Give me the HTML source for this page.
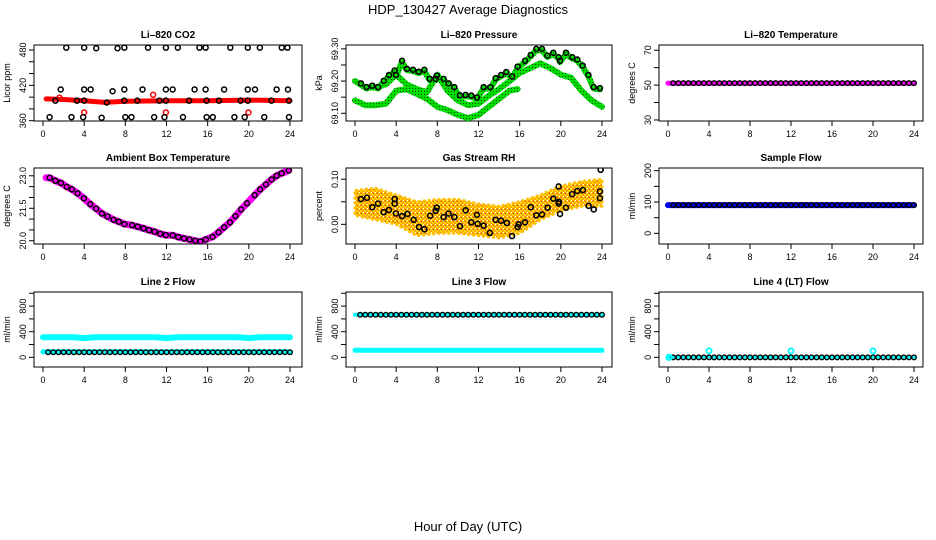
<!DOCTYPE html>
<html><head><meta charset="utf-8">
<style>
html,body{margin:0;padding:0;background:#fff;}
svg{display:block;font-family:"Liberation Sans",Arial,sans-serif;}
</style></head>
<body>
<svg id="fig" width="936" height="540" viewBox="0 0 936 540" xmlns="http://www.w3.org/2000/svg">
<defs>
<pattern id="rhpat" width="4" height="4" patternUnits="userSpaceOnUse">
<rect width="4" height="4" fill="#ffd700"/><rect width="2" height="2" fill="#ff9a00"/><rect x="2" y="2" width="2" height="2" fill="#ffa500"/><rect x="1" y="1" width="1" height="1" fill="#e04000"/><rect x="3" y="0" width="1" height="1" fill="#ffffff"/>
</pattern>
<pattern id="grpat" width="3" height="3" patternUnits="userSpaceOnUse">
<rect width="3" height="3" fill="#00dd00"/><rect x="1" y="1" width="1" height="1" fill="#114411"/>
</pattern>
</defs>
<text x="468" y="14" font-size="13" text-anchor="middle">HDP_130427  Average Diagnostics</text>
<text x="468" y="531" font-size="13" text-anchor="middle">Hour of Day (UTC)</text>
</svg>
<script>
// ---- data ----
const hourTicks = [0,4,8,12,16,20,24];
// CO2
const co2Hours = [2.26,4.0,5.17,7.24,7.9,10.2,11.94,13.1,15.2,15.8,18.2,19.9,21.07,23.2,23.75,
 1.72,4.0,4.63,6.76,7.9,9.67,11.94,12.6,14.73,15.8,17.6,19.9,20.6,22.7,23.8,
 1.2,3.3,4.0,6.2,7.9,9.16,11.3,11.94,14.2,15.9,17.1,19.2,19.9,22.2,23.9,
 0.64,2.77,3.9,5.7,8.0,8.6,10.8,11.8,13.6,15.9,16.5,18.6,19.6,21.5,23.9];
const co2Vals = [484,484,483,483,484,484,484,484,484,484,484,484,484,484,484,
 413,413,413,410,413,413,413,413,413,413,413,413,413,413,413,
 394,394,394,391,394,394,394,394,394,394,394,394,394,394,394,
 366,366,366,365,366,366,366,366,366,366,366,366,366,366,366];
const co2BandHours = [0.3,2,4,6,8,12,16,20,24];
const co2BandVals = [397,396,394,391,393,394,394,395,394];
const co2RedHours = [1.6,4.0,10.7,11.94,19.96];
const co2RedVals = [399,374,404,374,374];
// Pressure
const presHours = [0.58,1.13,1.68,2.24,2.79,3.30,3.85,3.98,4.57,5.05,5.64,6.19,6.74,7.26,7.84,7.94,8.61,9.10,9.65,10.2,10.75,11.3,11.85,12.5,13.15,13.67,14.2,14.7,15.26,15.8,16.52,17.07,17.62,18.17,18.69,19.27,19.79,19.92,20.5,21.12,21.6,22.12,22.68,23.19,23.8];
const presVals = [69.193,69.181,69.186,69.181,69.201,69.219,69.233,69.219,69.263,69.238,69.235,69.229,69.235,69.207,69.207,69.217,69.207,69.193,69.181,69.156,69.157,69.155,69.149,69.181,69.181,69.209,69.219,69.228,69.214,69.245,69.263,69.281,69.300,69.300,69.279,69.288,69.274,69.263,69.288,69.274,69.267,69.248,69.219,69.181,69.178];
const presBHours = [0,1,2,3,4,5,6,7,8,9,10,11,12,13,14,15,16,17,18,19,20,21,22,23,24];
const presBVals = [69.20,69.18,69.18,69.19,69.22,69.19,69.175,69.165,69.22,69.17,69.14,69.125,69.13,69.155,69.175,69.20,69.225,69.24,69.255,69.24,69.22,69.21,69.17,69.14,69.12];
const presCHours = [0,1,2,3,4,5,6,7,8,9,10,11,12,13,14,15,15.8];
const presCVals = [69.14,69.125,69.125,69.13,69.17,69.175,69.16,69.145,69.12,69.11,69.095,69.085,69.095,69.12,69.145,69.17,69.175];
// Ambient temperature
const ambHours = [0.65,1.2,1.74,2.3,2.81,3.36,3.97,4.6,5.17,5.72,6.27,6.85,7.37,7.92,8.66,9.2,9.77,10.3,10.84,11.4,11.94,12.6,13.14,13.7,14.24,14.8,15.3,15.82,16.47,17.06,17.6,18.17,18.7,19.25,19.82,20.57,21.1,21.66,22.2,22.7,23.2,23.88];
const ambVals = [22.91,22.77,22.67,22.49,22.37,22.19,21.96,21.69,21.48,21.26,21.12,20.97,20.88,20.77,20.72,20.65,20.57,20.49,20.42,20.32,20.26,20.25,20.17,20.11,20.06,20.00,19.96,20.06,20.18,20.39,20.62,20.85,21.14,21.45,21.73,22.11,22.37,22.60,22.83,23.00,23.12,23.25];
// RH
const rhHours = [0.58,1.16,1.68,2.24,2.79,3.3,3.85,3.85,3.98,4.57,5.1,5.7,6.22,6.74,7.3,7.84,7.94,8.61,9.1,9.65,10.2,10.75,11.3,11.85,11.92,12.5,13.1,13.67,14.2,14.75,15.26,15.8,15.9,16.52,17.07,17.62,18.17,18.72,19.27,19.79,19.82,19.79,19.92,20.5,21.1,21.6,22.15,22.7,23.2,23.8,23.8,23.87];
const rhVals = [0.056,0.059,0.038,0.046,0.027,0.032,0.056,0.046,0.024,0.018,0.023,0.010,-0.006,-0.011,0.019,0.030,0.037,0.016,0.024,0.016,-0.004,0.031,0.0045,0.021,0.001,-0.003,-0.019,0.010,0.008,0.003,-0.026,-0.006,0.000,0.0045,0.038,0.020,0.022,0.037,0.057,0.046,0.050,0.084,0.023,0.037,0.067,0.074,0.076,0.041,0.033,0.058,0.073,0.121];
const rhBandHours = [0,2,4,6,8,10,12,14,16,18,20,22,24];
const rhUpper = [0.075,0.08,0.065,0.05,0.055,0.055,0.045,0.04,0.05,0.065,0.085,0.095,0.10];
const rhLower = [0.02,0.01,0.0,-0.025,-0.02,-0.02,-0.025,-0.03,-0.02,0.01,0.03,0.04,0.04];
// Flat series (hourly, 0..24)
const flatHours = [0,1,2,3,4,5,6,7,8,9,10,11,12,13,14,15,16,17,18,19,20,21,22,23,24];
const licorTemp = [51.1,51.1,51.1,51.1,51.1,51.1,51.1,51.1,51.1,51.1,51.1,51.1,51.1,51.1,51.1,51.1,51.1,51.1,51.1,51.1,51.1,51.1,51.1,51.1,51.1];
const sampleFlow = [90,90,90,90,90,90,90,90,90,90,90,90,90,90,90,90,90,90,90,90,90,90,90,90,90];
const line2High = [313,313,313,313,300,313,313,313,313,313,313,313,300,313,313,313,313,313,313,313,300,313,313,313,313];
const line2Low = [87,87,87,87,87,87,87,87,87,87,87,87,87,87,87,87,87,87,87,87,87,87,87,87,87];
const line2Black = [80,80,80,80,80,80,80,80,80,80,80,80,80,80,80,80,80,80,80,80,80,80,80,80,80];
const line3High = [665,665,665,665,665,665,665,665,665,665,665,665,665,665,665,665,665,665,665,665,665,665,665,665,665];
const line3Low = [110,110,110,110,110,110,110,110,110,110,110,110,110,110,110,110,110,110,110,110,110,110,110,110,110];
const line4Flow = [0,0,0,0,0,0,0,0,0,0,0,0,0,0,0,0,0,0,0,0,0,0,0,0,0];
const line4SpikeHours = [4,12,20];
const line4SpikeVals = [100,100,100];

// ---- layout ----
const NS = "http://www.w3.org/2000/svg";
const svg = document.getElementById('fig');
const colL=[34,346,659], colR=[302,612,923], colX0=[43,355,668], colX24=[290,602,914];
const rowT=[45,168,292], rowB=[121,244,367];
function el(tag, attrs, parent){const e=document.createElementNS(NS,tag);for(const k in attrs)e.setAttribute(k,attrs[k]);(parent||svg).appendChild(e);return e;}

function makePanel(name,row,col,title,ylab,ymin,ymax,ticks,labels){
  const g=el('g',{});
  
  
  const L=colL[col],R=colR[col],T=rowT[row],B=rowB[row];
  const xs=h=>colX0[col]+(h/24)*(colX24[col]-colX0[col]);
  const ys=v=>B-(v-ymin)/(ymax-ymin)*(B-T);
  const t=el('text',{x:(L+R)/2,y:T-7,'font-size':10,'font-weight':'bold','text-anchor':'middle'},g);
  t.textContent=title;
  
  
  const fr=el('rect',{x:L,y:T,width:R-L,height:B-T,fill:'none',stroke:'#000','stroke-width':1},g);
  
  
  const xa=el('g',{},g);
  
  
  el('line',{x1:xs(0),x2:xs(24),y1:B,y2:B,stroke:'#000'},xa);
  hourTicks.forEach(h=>{
    el('line',{x1:xs(h),x2:xs(h),y1:B,y2:B+5,stroke:'#000'},xa);
    const tl=el('text',{x:xs(h),y:B+16,'font-size':9,'text-anchor':'middle'},xa);
    tl.textContent=h;
    
    
  });
  const ya=el('g',{},g);
  
  
  ticks.forEach(v=>{el('line',{x1:L-5,x2:L,y1:ys(v),y2:ys(v),stroke:'#000'},ya);});
  labels.forEach(s=>{
    const v=parseFloat(s), yy=ys(v), xx=L-8;
    const tl=el('text',{x:xx,y:yy,'font-size':9,'text-anchor':'middle',transform:`rotate(-90 ${xx} ${yy})`},ya);
    tl.textContent=s;
    
    
  });
  const yt=L-24, ym=(T+B)/2;
  const ylt=el('text',{x:yt,y:ym,'font-size':9,'text-anchor':'middle',transform:`rotate(-90 ${yt} ${ym})`},g);
  ylt.textContent=ylab;
  
  
  const clip='clip-'+name;
  const cp=el('clipPath',{id:clip},g); el('rect',{x:L,y:T,width:R-L,height:B-T},cp);
  const plot=el('g',{'clip-path':`url(#${clip})`},g);
  
  
  return {g:plot,xs,ys};
}
function band(p,hours,vals,color,w,name){
  const pts=hours.map((h,i)=>p.xs(h).toFixed(1)+','+p.ys(vals[i]).toFixed(1)).join(' ');
  const e=el('polyline',{points:pts,fill:'none',stroke:color,'stroke-width':w,'stroke-linecap':'round','stroke-linejoin':'round'},p.g);
  
  
}
function circles(p,hours,vals,color,r,sw,name){
  hours.forEach((h,i)=>{
    const c=el('circle',{cx:p.xs(h),cy:p.ys(vals[i]),r:r,fill:'none',stroke:color,'stroke-width':sw},p.g);
    
    
  });
}
function flatMarks(p,vals,color,name){
  flatHours.forEach((h,i)=>{
    [h, h+0.5].forEach(hh=>{
      if(hh<0.5||hh>24)return;
      const c=el('circle',{cx:p.xs(hh),cy:p.ys(vals[Math.min(i,vals.length-1)]),r:2.3,fill:'none',stroke:color,'stroke-width':1.4},p.g);
      
      
    });
  });
}

// Panel 1: CO2
let p=makePanel('co2',0,0,'Li–820 CO2','Licor ppm',359.5,488.5,[360,380,400,420,440,460,480],['360','420','480']);
band(p,co2BandHours,co2BandVals,'#ff0000',5,'co2-red-band');
circles(p,co2RedHours,co2RedVals,'#ff0000',2.5,1.5,'co2-red-point');
circles(p,co2Hours,co2Vals,'#000',2.5,1.5,'co2-point');
// Panel 2: Pressure
p=makePanel('pressure',0,1,'Li–820 Pressure','kPa',69.076,69.312,[69.10,69.15,69.20,69.25,69.30],['69.10','69.20','69.30']);
band(p,presCHours,presCVals,'url(#grpat)',6,'pressure-green-band-low');
band(p,presBHours,presBVals,'url(#grpat)',6,'pressure-green-band-mid');
band(p,presHours,presVals.map(v=>v-0.004),'url(#grpat)',6,'pressure-green-band-high');
circles(p,presHours,presVals,'#000',2.5,1.5,'pressure-point');
// Panel 3: Licor temperature
p=makePanel('licor-temp',0,2,'Li–820 Temperature','degrees C',29.4,73,[30,40,50,60,70],['30','50','70']);
band(p,flatHours,licorTemp,'#ff00ff',5,'licor-temp-band');
flatMarks(p,licorTemp,'#000','licor-temp-point');
// Panel 4: Ambient box temperature
p=makePanel('ambient-temp',1,0,'Ambient Box Temperature','degrees C',19.85,23.36,[20,20.5,21,21.5,22,22.5,23],['20.0','21.5','23.0']);
band(p,[0.3].concat(ambHours),[22.91].concat(ambVals),'#ff00ff',7,'ambient-temp-band');
circles(p,ambHours,ambVals,'#000',2.5,1.5,'ambient-temp-point');
// Panel 5: RH
p=makePanel('rh',1,1,'Gas Stream RH','percent',-0.0437,0.125,[0,0.05,0.10],['0.00','0.10']);
{
  const up=rhBandHours.map((h,i)=>p.xs(h).toFixed(1)+','+p.ys(rhUpper[i]).toFixed(1));
  const lo=rhBandHours.map((h,i)=>p.xs(h).toFixed(1)+','+p.ys(rhLower[i]).toFixed(1)).reverse();
  const poly=el('polygon',{points:up.concat(lo).join(' '),fill:'url(#rhpat)',stroke:'#ffc000','stroke-width':3,'stroke-dasharray':'3 2','stroke-linejoin':'round'},p.g);
  
  
}
circles(p,rhHours,rhVals,'#000',2.5,1.6,'rh-point');
// Panel 6: Sample flow
p=makePanel('sample-flow',1,2,'Sample Flow','ml/min',-34,208.5,[0,50,100,150,200],['0','100','200']);
band(p,flatHours,sampleFlow,'#0000ee',6,'sample-flow-band');
flatMarks(p,sampleFlow,'#000','sample-flow-point');
// Panel 7: Line 2 flow
p=makePanel('line2-flow',2,0,'Line 2 Flow','ml/min',-151,1020,[0,200,400,600,800,1000],['0','400','800']);
band(p,flatHours,line2High,'#00ffff',6,'line2-flow-high-band');
band(p,flatHours,line2Low,'#00ffff',5,'line2-flow-low-band');
flatMarks(p,line2Black,'#000','line2-flow-point');
// Panel 8: Line 3 flow
p=makePanel('line3-flow',2,1,'Line 3 Flow','ml/min',-151,1020,[0,200,400,600,800,1000],['0','400','800']);
band(p,flatHours,line3High,'#00ffff',4,'line3-flow-high-band');
band(p,flatHours,line3Low,'#00ffff',5,'line3-flow-low-band');
flatMarks(p,line3High,'#000','line3-flow-point');
// Panel 9: Line 4 flow
p=makePanel('line4-flow',2,2,'Line 4 (LT) Flow','ml/min',-151,1020,[0,200,400,600,800,1000],['0','400','800']);
band(p,flatHours,line4Flow,'#00ffff',3,'line4-flow-band');
flatMarks(p,line4Flow,'#000','line4-flow-point');
circles(p,line4SpikeHours,line4SpikeVals,'#00ffff',2.6,1.8,'line4-flow-spike');
circles(p,[0.1],[0],'#00ffff',2.6,2,'line4-flow-start');
</script>
</body></html>
